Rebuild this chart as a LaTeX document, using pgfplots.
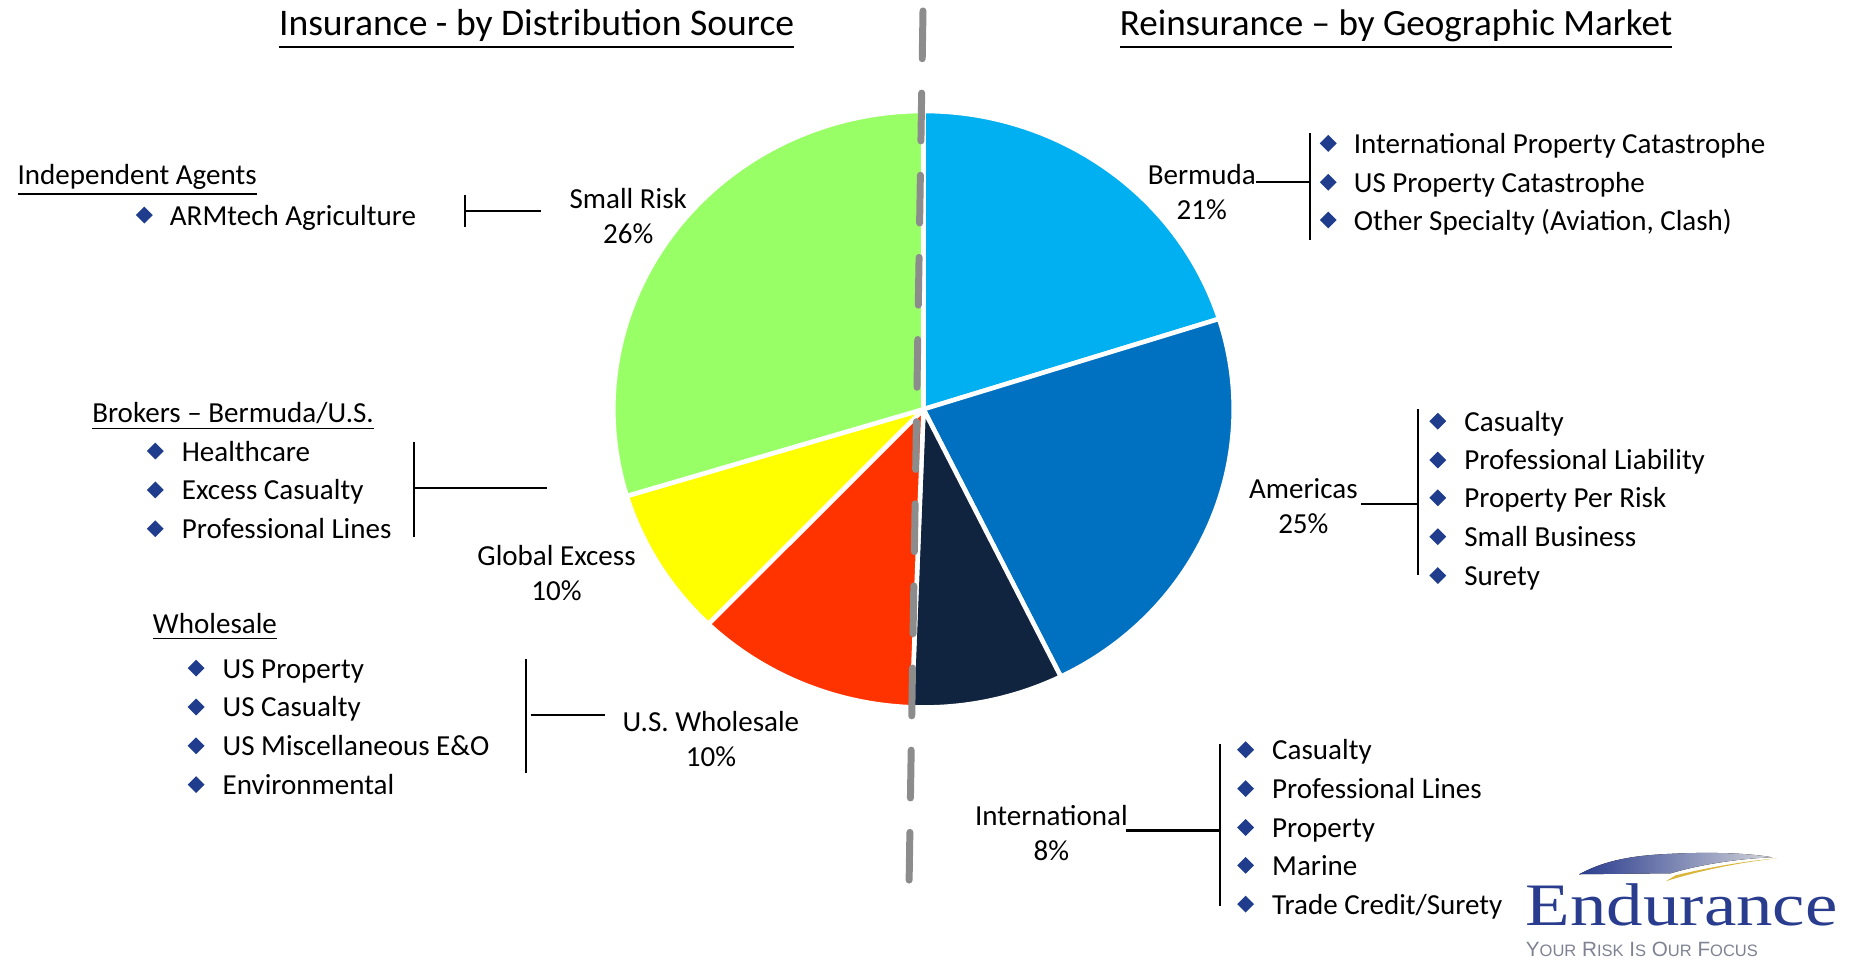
\documentclass[border=0pt]{standalone}
\usepackage{pgfplots}
\pgfplotsset{compat=1.18}
\usepackage{fontspec}
\setmainfont{Carlito}
\newfontfamily\logofont{Liberation Serif}
\newfontfamily\tagfont{Liberation Sans}
\usetikzlibrary{shapes.geometric}
\definecolor{cBerm}{HTML}{00B0F0}
\definecolor{cAmer}{HTML}{0070C0}
\definecolor{cIntl}{HTML}{11243F}
\definecolor{cWhol}{HTML}{FF3300}
\definecolor{cGlob}{HTML}{FFFF00}
\definecolor{cSmall}{HTML}{99FF66}
\definecolor{bul}{HTML}{1F3D8C}
\definecolor{divgray}{HTML}{8C8C8C}
\definecolor{logoblue}{HTML}{2A3C8E}
\definecolor{logogray}{HTML}{7E8292}
\definecolor{logogold}{HTML}{D9B63A}
\newcommand{\bul}[2]{\node[diamond, fill=bul, inner sep=0pt, minimum size=1.75mm] at (axis cs:#1,#2) {};}
% #2 = visual centre line of the text; baseline lies 10 px lower
\newcommand{\itm}[3]{\node[anchor=base west, inner sep=0pt] at (axis cs:#1,#2+10) {#3};}
\newcommand{\pieslice}[3]{\fill[#1, draw=white, line width=1.3pt, line join=round] (axis cs:919.5,411) -- ++(#2:31.15mm and 29.95mm) arc[start angle=#2, end angle=#3, x radius=31.15mm, y radius=29.95mm] -- cycle;}
\begin{document}
% slice shares (percent of the full circle), clockwise from 12 o'clock
\pgfmathsetmacro\aA{90}
\pgfmathsetmacro\aB{\aA-20.1*3.6}% Bermuda
\pgfmathsetmacro\aC{\aB-22.6*3.6}% Americas
\pgfmathsetmacro\aD{\aC-7.9*3.6}% International
\pgfmathsetmacro\aE{\aD-11.6*3.6}% U.S. Wholesale
\pgfmathsetmacro\aF{\aE-8.1*3.6}% Global Excess
\pgfmathsetmacro\aG{\aF-29.7*3.6}% Small Risk
\begin{tikzpicture}[font=\fontsize{8.3}{10}\selectfont]
\begin{axis}[scale only axis, width=185.3mm, height=96.7mm,
  xmin=0, xmax=1853, ymin=0, ymax=967, y dir=reverse,
  hide axis, clip=false]
\coordinate (bbA) at (axis cs:0,967);
% pie
\pieslice{cBerm}{\aA}{\aB}
\pieslice{cAmer}{\aB}{\aC}
\pieslice{cIntl}{\aC}{\aD}
\pieslice{cWhol}{\aD}{\aE}
\pieslice{cGlob}{\aE}{\aF}
\pieslice{cSmall}{\aF}{\aG}
% dashed divider
\draw[divgray, line width=0.7mm, line cap=round, dash pattern=on 4.8mm off 3.45mm] (axis cs:919,11) -- (axis cs:905,888);
% titles
\node[anchor=base, inner sep=0pt, font=\fontsize{10.75}{12}\selectfont] at (axis cs:531,36) {\underline{Insurance - by Distribution Source}};
\node[anchor=base, inner sep=0pt, font=\fontsize{10.6}{12}\selectfont] at (axis cs:1394,36) {\underline{Reinsurance -- by Geographic Market}};
% slice labels
\node[align=center] at (axis cs:623,217) {Small Risk\\26\%};
\node[align=center] at (axis cs:551,575) {Global Excess\\10\%};
\node[align=center] at (axis cs:706,742) {U.S. Wholesale\\10\%};
\node[align=center] at (axis cs:1199,193) {Bermuda\\21\%};
\node[align=center] at (axis cs:1301,508) {Americas\\25\%};
\node[align=center] at (axis cs:1048,837) {International\\8\%};
% connectors
\draw[line width=0.6pt] (axis cs:459,196) -- (axis cs:459,228) (axis cs:459,212) -- (axis cs:535,212);
\draw[line width=0.6pt] (axis cs:408,444) -- (axis cs:408,539) (axis cs:408,490) -- (axis cs:541,490);
\draw[line width=0.6pt] (axis cs:520,662) -- (axis cs:520,776) (axis cs:525,718) -- (axis cs:600,718);
\draw[line width=0.6pt] (axis cs:1308,134) -- (axis cs:1308,241) (axis cs:1253,183) -- (axis cs:1308,183);
\draw[line width=0.6pt] (axis cs:1416,411) -- (axis cs:1416,577) (axis cs:1359,506) -- (axis cs:1416,506);
\draw[line width=0.6pt] (axis cs:1217,747) -- (axis cs:1217,910) (axis cs:1123,834) -- (axis cs:1217,834);
% left lists
\itm{9}{175}{\underline{Independent Agents}}
\bul{137}{216}\itm{162}{216}{ARMtech Agriculture}
\itm{84}{414}{\underline{Brokers -- Bermuda/U.S.}}
\bul{148}{453}\itm{174}{453}{Healthcare}
\bul{148}{492}\itm{174}{492}{Excess Casualty}
\bul{148}{531}\itm{174}{531}{Professional Lines}
\itm{145}{626}{\underline{Wholesale}}
\bul{189}{671}\itm{215}{671}{US Property}
\bul{189}{710}\itm{215}{710}{US Casualty}
\bul{189}{749}\itm{215}{749}{US Miscellaneous E\&O}
\bul{189}{788}\itm{215}{788}{Environmental}
% right lists
\bul{1326}{144}\itm{1351}{144}{International Property Catastrophe}
\bul{1326}{183}\itm{1351}{183}{US Property Catastrophe}
\bul{1326}{221}\itm{1351}{221}{Other Specialty (Aviation, Clash)}
\bul{1436}{423}\itm{1462}{423}{Casualty}
\bul{1436}{462}\itm{1462}{462}{Professional Liability}
\bul{1436}{500}\itm{1462}{500}{Property Per Risk}
\bul{1436}{539}\itm{1462}{539}{Small Business}
\bul{1436}{578}\itm{1462}{578}{Surety}
\bul{1243}{753}\itm{1269}{753}{Casualty}
\bul{1243}{792}\itm{1269}{792}{Professional Lines}
\bul{1243}{831}\itm{1269}{831}{Property}
\bul{1243}{869}\itm{1269}{869}{Marine}
\bul{1243}{908}\itm{1269}{908}{Trade Credit/Surety}
% logo
\fill[left color=logoblue, right color=logogray!35] (axis cs:1578,878) .. controls (axis cs:1600,866) and (axis cs:1625,860) .. (axis cs:1660,858) .. controls (axis cs:1710,855) and (axis cs:1750,857) .. (axis cs:1772,861) .. controls (axis cs:1740,862) and (axis cs:1700,868) .. (axis cs:1670,877) -- cycle;
\fill[logogold] (axis cs:1665,885) .. controls (axis cs:1700,874) and (axis cs:1740,866) .. (axis cs:1777,862) .. controls (axis cs:1740,865) and (axis cs:1705,872) .. (axis cs:1675,879) -- cycle;
\node[inner sep=0pt, text=logoblue] at (axis cs:1681,909) {\resizebox{31.3mm}{4.2mm}{\logofont Endurance}};
\node[inner sep=0pt, text=logogray] at (axis cs:1641,953) {\resizebox{23.3mm}{!}{\tagfont Y\scalebox{0.8}{OUR} R\scalebox{0.8}{ISK} I\scalebox{0.8}{S} O\scalebox{0.8}{UR} F\scalebox{0.8}{OCUS}}};
\end{axis}
\pgfresetboundingbox
\path (bbA) rectangle ++(185.3mm,96.7mm);
\end{tikzpicture}
\end{document}
